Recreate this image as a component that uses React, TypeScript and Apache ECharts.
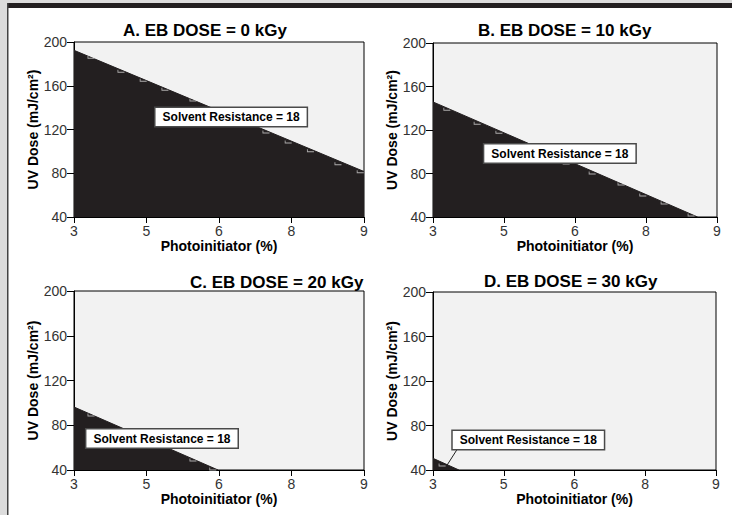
import React, { useEffect, useRef } from "react";
import * as echarts from "echarts";

const FONT = "Liberation Sans, Arial, Helvetica, sans-serif";
const DARK = "#231f20";
const LIGHT = "#f2f2f2";

const panelTitles = [
  "A. EB DOSE = 0 kGy",
  "B. EB DOSE = 10 kGy",
  "C. EB DOSE = 20 kGy",
  "D. EB DOSE = 30 kGy",
];
// boundary of the "Solvent Resistance = 18" contour: [photoinitiator %, UV dose]
const boundaryA = [[3, 192.4], [9, 81.6]];
const boundaryB = [[3, 145.8], [8.59, 40]];
const boundaryC = [[3, 96.3], [5.98, 40]];
const boundaryD = [[3, 50.5], [3.55, 40]];
const boundaries = [boundaryA, boundaryB, boundaryC, boundaryD];
// small contour-grid notches visible inside the dark region
const notchesA = [[3.29, 186.1], [3.91, 173.3], [4.37, 165.1], [4.82, 156.9], [5.4, 146.9], [6.91, 117.7], [7.37, 108.6], [7.83, 100.5], [8.4, 88.6], [8.86, 81.3]];
const notchesB = [[3.23, 139.1], [3.87, 126.3], [4.33, 118.0], [5.75, 89.6], [6.3, 80.4], [6.91, 70.3], [7.37, 60.2], [7.82, 52.9], [8.39, 41.9]];
const notchesC = [[3.29, 89.1], [5.4, 48.9], [5.81, 40.9]];
const notchesD = [[3.13, 44.5]];
const notches = [notchesA, notchesB, notchesC, notchesD];
// annotation label anchor (data coords)
const labelPos = [[6.25, 131.4], [5.68, 98.3], [4.82, 68.1], [5.02, 67]];
const labelText = "Solvent Resistance = 18";
const leaderD = [[3.57, 62.4], [3.3, 44.5]];

const xMin = 3, xMax = 9, xStep = 1.5;
const yMin = 40, yMax = 200, yStep = 40;
const xName = "Photoinitiator (%)";
const yName = "UV Dose (mJ/cm²)";

const gridBoxes = [
  { left: 74, top: 42, width: 290, height: 175 },
  { left: 433, top: 43, width: 284, height: 174 },
  { left: 74, top: 291, width: 290, height: 179 },
  { left: 433, top: 292, width: 283, height: 178 },
];
const yNameGaps = [32, 29, 32, 30];
const titleBoxes = [
  { left: 123, top: 22 },
  { left: 478, top: 22 },
  { left: 190, top: 274 },
  { left: 484, top: 273 },
];

export default function App() {
  const ref = useRef<HTMLDivElement>(null);
  useEffect(() => {
    document.body.style.margin = "0";
    const chart = echarts.init(ref.current!, null, { renderer: "svg" });
    const series: any[] = [];
    boundaries.forEach((b, i) => {
      series.push({
        type: "line",
        xAxisIndex: i,
        yAxisIndex: i,
        data: b,
        symbol: "none",
        lineStyle: { color: DARK, width: 1 },
        areaStyle: { color: DARK, opacity: 1, origin: "start" },
        silent: true,
        z: 2,
      });
      series.push({
        type: "scatter",
        xAxisIndex: i,
        yAxisIndex: i,
        data: notches[i],
        symbol: "path://M0,0V3H8V2H1V0Z",
        symbolSize: [7, 3],
        symbolOffset: [3, 0],
        itemStyle: { color: "#cfcfcf" },
        silent: true,
        z: 3,
      });
      series.push({
        type: "scatter",
        xAxisIndex: i,
        yAxisIndex: i,
        data: [labelPos[i]],
        symbolSize: 0,
        itemStyle: { color: "#fff", opacity: 1 },
        silent: true,
        z: 5,
        label: {
          show: true,
          position: "inside",
          formatter: labelText,
          fontFamily: FONT,
          fontWeight: "bold",
          fontSize: 12,
          color: "#000",
          opacity: 1,
          textBorderWidth: 0,
          backgroundColor: "#ffffff",
          borderColor: "#4a4a4a",
          borderWidth: 1.5,
          padding: [3, 7, 3, 7],
        },
      });
    });
    series.push({
      type: "line",
      xAxisIndex: 3,
      yAxisIndex: 3,
      data: leaderD,
      symbol: "none",
      lineStyle: { color: "#222", width: 1 },
      silent: true,
      z: 4,
    });

    const option: any = {
      animation: false,
      backgroundColor: "#fff",
      title: panelTitles.map((t, i) => ({
        text: t,
        left: titleBoxes[i].left,
        top: titleBoxes[i].top,
        padding: 0,
        textStyle: { fontFamily: FONT, fontWeight: "bold", fontSize: 17, color: "#000" },
      })),
      grid: gridBoxes.map((g) => ({
        ...g,
        show: true,
        backgroundColor: LIGHT,
        borderColor: "#000",
        borderWidth: 1,
        containLabel: false,
      })),
      xAxis: gridBoxes.map((_, i) => ({
        type: "value",
        gridIndex: i,
        min: xMin,
        max: xMax,
        interval: xStep,
        name: xName,
        nameLocation: "middle",
        nameGap: 21,
        nameTextStyle: { fontFamily: FONT, fontWeight: "bold", fontSize: 14, color: "#000" },
        axisLine: { show: true, lineStyle: { color: "#000", width: 1 } },
        axisTick: { show: true, length: 6, lineStyle: { color: "#000" } },
        axisLabel: {
          formatter: (v: number) => String(Math.round(v)),
          fontFamily: FONT,
          fontSize: 14,
          color: "#333",
          margin: 7,
        },
        splitLine: { show: false },
      })),
      yAxis: gridBoxes.map((_, i) => ({
        type: "value",
        gridIndex: i,
        min: yMin,
        max: yMax,
        interval: yStep,
        name: yName,
        nameLocation: "middle",
        nameGap: yNameGaps[i],
        nameTextStyle: { fontFamily: FONT, fontWeight: "bold", fontSize: 14, color: "#000" },
        axisLine: { show: true, lineStyle: { color: "#000", width: 1 } },
        axisTick: { show: true, length: 7, lineStyle: { color: "#000" } },
        axisLabel: { fontFamily: FONT, fontSize: 14, color: "#333", margin: 7 },
        splitLine: { show: false },
      })),
      graphic: [
        { type: "rect", shape: { x: 0, y: 0, width: 7, height: 515 }, style: { fill: "#dcdcdc" }, silent: true },
        { type: "rect", shape: { x: 0, y: 0, width: 732, height: 3 }, style: { fill: "#dcdcdc" }, silent: true },
        { type: "rect", shape: { x: 7, y: 3, width: 725, height: 5 }, style: { fill: DARK }, silent: true },
        { type: "rect", shape: { x: 7, y: 3, width: 1.5, height: 512 }, style: { fill: "#444" }, silent: true },
      ],
      series,
    };
    chart.setOption(option);
    return () => chart.dispose();
  }, []);
  return <div ref={ref} style={{ width: 732, height: 515 }} />;
}
